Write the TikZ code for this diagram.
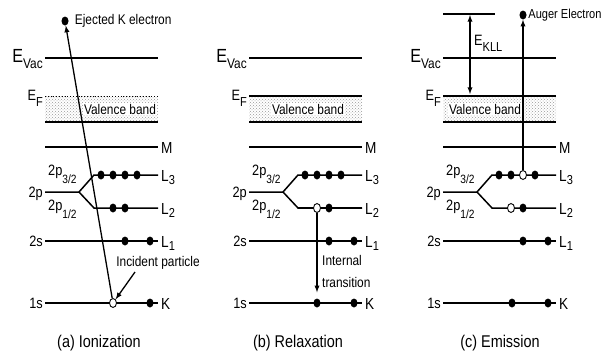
\documentclass[tikz,border=0pt]{standalone}
\usepackage{fontspec}
\setmainfont{Liberation Sans}[FakeStretch=0.85]
\usetikzlibrary{arrows,positioning,shapes.geometric,patterns}

% level symbol with lowered index
\newcommand{\ebig}[1]{\fontsize{19}{19}\selectfont E\raisebox{-6pt}{\fontsize{14}{14}\selectfont #1}}
\newcommand{\esmall}[1]{\fontsize{15}{15}\selectfont E\raisebox{-6pt}{\fontsize{13}{13}\selectfont #1}}
\newcommand{\shell}[2]{#1\raisebox{-3pt}{\fontsize{13}{13}\selectfont #2}}
\newcommand{\orbsub}[1]{2p\raisebox{-8pt}{\fontsize{12}{12}\selectfont #1}}

\begin{document}
\begin{tikzpicture}[x=1pt, y=-1pt,
    level/.style={line width=2pt},
    sublevel/.style={line width=1.5pt},
    elec/.style={ellipse, fill=black, inner sep=0pt, minimum width=7pt, minimum height=9pt},
    hole/.style={ellipse, draw=black, fill=white, line width=0.9pt, inner sep=0pt, minimum width=7pt, minimum height=9pt},
    lbl/.style={font=\fontsize{15}{15}\selectfont, inner sep=0pt},
    rlbl/.style={font=\fontsize{16}{16}\selectfont, inner sep=0pt, anchor=base west},
    txt/.style={font=\fontsize{14}{22}\selectfont, inner sep=1pt},
    caption/.style={font=\fontsize{17}{17}\selectfont},
    move/.style={-latex, line width=1.3pt}]

  \useasboundingbox (0,0) rectangle (606,359);

  % levels common to the three panels
  \foreach \p/\x in {a/45, b/249, c/443} {
    \fill[pattern=crosshatch dots, pattern color=gray!80] (\x,96) rectangle (\x+113,122);
    \draw[level] (\x,58) -- ++(113,0);
    \draw[level] (\x,122) -- ++(113,0);
    \draw[level] (\x,147) -- ++(113,0);
    \draw[sublevel] (\x,192) -- ++(34,0) -- ++(15,-17) -- (\x+113,175);
    \draw[sublevel] (\x+34,192) -- ++(15,16) -- (\x+113,208);
    \draw[sublevel] (\x,241) -- ++(113,0);
    \draw[sublevel] (\x,303) -- ++(113,0);

    \node[lbl, anchor=base east] (\p-vac) at (\x-2,62) {\ebig{Vac}};
    \node[lbl, anchor=base east] (\p-ef) at (\x-2,100) {\esmall{F}};
    \node[lbl, anchor=base east] (\p-2p) at (\x-2,197) {2p};
    \node[lbl, anchor=base west] (\p-2p3) at (\x+3,175) {\orbsub{3/2}};
    \node[lbl, anchor=base west] (\p-2p1) at (\x+3,210) {\orbsub{1/2}};
    \node[lbl, anchor=base east] (\p-2s) at (\x-2,246) {2s};
    \node[lbl, anchor=base east] (\p-1s) at (\x-2,308) {1s};

    \node[rlbl] (\p-M) at (\x+116,153) {M};
    \node[rlbl] (\p-L3) at (\x+116,181) {\shell{L}{3}};
    \node[rlbl] (\p-L2) at (\x+116,214) {\shell{L}{2}};
    \node[rlbl] (\p-L1) at (\x+116,247) {\shell{L}{1}};
    \node[rlbl] (\p-K) at (\x+116,309) {K};
  }

  % Fermi levels
  \draw[dotted, line width=0.8pt] (45,96) -- (158,96);
  \draw[level] (249,96) -- (362,96);
  \draw[level] (443,96) -- (556,96);

  \node[txt, fill=white] (a-vb) at (120,109) {Valence band};
  \node[txt, fill=white] (b-vb) at (308,109) {Valence band};
  \node[txt, fill=white] (c-vb) at (485,109) {Valence band};

  % (a) ionization
  \foreach \i/\dx in {1/56, 2/68, 3/80, 4/92}
    \node[elec] (a-l3-\i) at (45+\dx,175) {};
  \node[elec] (a-l2-1) at (113,208) {};
  \node[elec] (a-l2-2) at (125,208) {};
  \node[elec] (a-l1-1) at (125,241) {};
  \node[elec] (a-l1-2) at (150,241) {};
  \node[hole] (a-hole) at (113,303) {};
  \node[elec] (a-k) at (150,303) {};

  \node[elec] (a-eject) at (65,21) {};
  \node[txt, right=5pt of a-eject] (a-ejtext) {Ejected K electron};
  \draw[move] (a-hole) -- (a-eject);

  \node[txt] (a-inc) at (158,263) {Incident particle};
  \coordinate (a-incstart) at (135,272);
  \draw[move] (a-incstart) -- (a-hole);

  \node[caption] (a-cap) at (99,343) {(a) Ionization};

  % (b) relaxation
  \foreach \i/\dx in {1/56, 2/68, 3/80, 4/92}
    \node[elec] (b-l3-\i) at (249+\dx,175) {};
  \draw[line width=2.2pt] (298,208) -- (362,208);
  \node[hole] (b-hole) at (317,208) {};
  \node[elec] (b-l2) at (329,208) {};
  \node[elec] (b-l1-1) at (329,241) {};
  \node[elec] (b-l1-2) at (354,241) {};
  \node[elec] (b-fill) at (317,303) {};
  \node[elec] (b-k) at (354,303) {};

  \draw[move, shorten >=6pt] (b-hole) -- (b-fill);
  \node[txt, align=left, anchor=west] (b-trans) at (321,271) {Internal\\transition};

  \node[caption] (b-cap) at (298,343) {(b) Relaxation};

  % (c) emission
  \draw[level] (443,14) -- (495,14);
  \foreach \i/\dx in {1/56, 2/68, 4/92}
    \node[elec] (c-l3-\i) at (443+\dx,175) {};
  \node[hole] (c-hole3) at (523,175) {};
  \node[hole] (c-hole2) at (511,208) {};
  \node[elec] (c-l2) at (523,208) {};
  \node[elec] (c-l1-1) at (523,241) {};
  \node[elec] (c-l1-2) at (548,241) {};
  \node[elec] (c-k-1) at (512,303) {};
  \node[elec] (c-k-2) at (548,303) {};

  \coordinate (c-top) at (470,15);
  \coordinate (c-fermi) at (470,94);
  \draw[latex-latex, line width=1.3pt] (c-top) -- (c-fermi);
  \node[lbl, anchor=base west] (c-ekll) at (474,45) {\esmall{KLL}};

  \node[elec] (c-auger) at (523,15) {};
  \node[txt, font=\fontsize{13}{13}\selectfont, inner sep=0pt, right=1.5pt of c-auger] (c-augtext) {Auger Electron};
  \draw[move] (c-hole3) -- (c-auger);

  \node[caption] (c-cap) at (500,343) {(c) Emission};
\end{tikzpicture}
\end{document}
